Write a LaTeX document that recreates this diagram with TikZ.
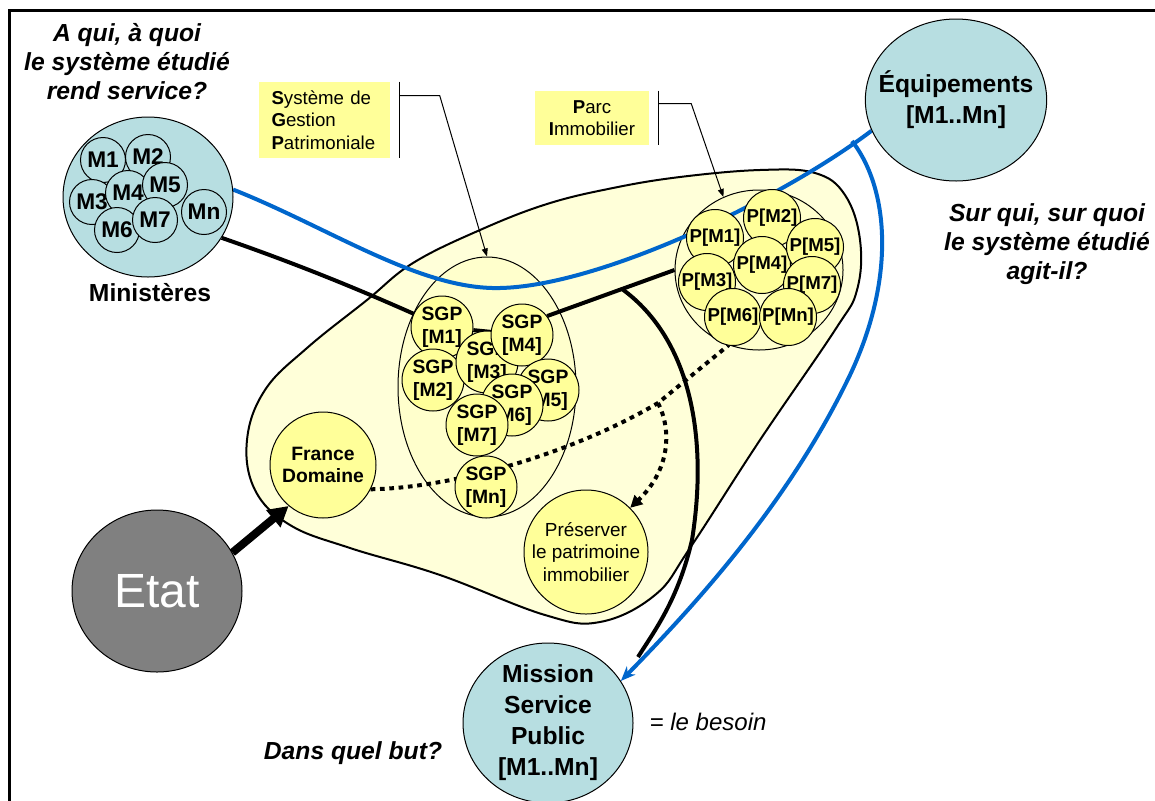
\documentclass[tikz,border=0pt]{standalone}
\usepackage{fontspec}
\setmainfont{Liberation Sans}
\usepackage{tikz}
\usetikzlibrary{shapes.geometric,arrows.meta,positioning,calc}
\definecolor{minBlue}{HTML}{B7DEE1}
\definecolor{sgpYellow}{HTML}{FFFF99}
\definecolor{blobYellow}{HTML}{FFFFD9}
\definecolor{ellYellow}{HTML}{FFFFCC}
\definecolor{linkBlue}{HTML}{0066CC}
\definecolor{etatGrey}{HTML}{808080}
\pgfdeclarelayer{blob}
\pgfdeclarelayer{links}
\pgfsetlayers{blob,links,main}
\tikzset{
  frameline/.style={line width=2.25pt},
  blobshape/.style={draw, line width=1.5pt, fill=blobYellow},
  groupell/.style={ellipse, draw, line width=0.75pt, fill=ellYellow, inner sep=0pt},
  bigblue/.style={ellipse, draw, line width=0.75pt, fill=minBlue, align=center,
    minimum width=127.5pt, minimum height=120pt, inner sep=-10pt,
    font=\fontsize{18.5}{23.25}\selectfont\bfseries},
  minsmall/.style={circle, draw, line width=0.75pt, fill=minBlue, minimum size=33.75pt,
    inner sep=0pt, font=\fontsize{17}{17}\selectfont\bfseries},
  sgpcirc/.style={circle, draw, line width=0.75pt, fill=sgpYellow, minimum size=46.5pt,
    inner sep=0pt, align=center, font=\fontsize{14.5}{17.25}\selectfont\bfseries},
  parccirc/.style={circle, draw, line width=0.75pt, fill=sgpYellow, minimum size=42.75pt,
    inner sep=0pt, font=\fontsize{14}{14}\selectfont\bfseries},
  calloutbox/.style={rectangle, fill=sgpYellow, inner sep=0pt,
    font=\fontsize{14}{16.9}\selectfont},
  question/.style={align=center, font=\fontsize{18.5}{21.75}\selectfont\bfseries\itshape},
  linkblack/.style={line width=3pt},
  linkblue/.style={line width=3pt, draw=linkBlue},
  linkdot/.style={line width=3pt, dash pattern=on 3.5pt off 3.5pt},
  pointer/.style={line width=0.75pt, -{Triangle[length=6pt,width=4.5pt]}}
}
\begin{document}
\begin{tikzpicture}[x=0.75pt, y=-0.75pt]
\useasboundingbox (0,0) rectangle (1155,800);
\draw[frameline] (1160,10) -- (9,10) -- (9,805);

\begin{pgfonlayer}{blob}
\draw[blobshape] plot[smooth cycle, tension=0.65] coordinates {
  (247,440) (265,390) (307,348) (367,300) (413,263) (480,230) (547,204) (613,188)
  (680,177) (760,170) (815,173) (845,195) (860,240) (857,290) (835,330) (760,440)
  (690,548) (655,595) (600,622) (545,615) (440,575) (350,548) (290,525) (255,490)};
\node[groupell, minimum width=133.5pt, minimum height=195pt] (sgpell) at (487,387) {};
\node[groupell, minimum width=126pt, minimum height=120pt] (pbig) at (759,270) {};
\end{pgfonlayer}

% questions
\node[question] (qleft) at (127,62) {A qui, à quoi\\le système étudié\\rend service?};
\node[question] (qright) at (1047,244) {Sur qui, sur quoi\\le système étudié\\agit-il?};
\node[question] (qbut) at (353,753) {Dans quel but?};
\node[font=\fontsize{18}{21}\selectfont\itshape, anchor=west] (besoin) at (645,722) {= le besoin};

% ministeres
\node[bigblue] (min) at (148,197) {};
\node[font=\fontsize{18.5}{21}\selectfont\bfseries] (minlbl) at (150,293) {Ministères};
\foreach \nm/\xx/\yy in {1/103/160, 2/148/157, 3/92/202, 4/128/193, 5/165/185, 6/117/230, 7/155/220, n/204/212}
  \node[minsmall] (m\nm) at (\xx,\yy) {M\nm};

\node[bigblue, minimum height=121.5pt] (equip) at (956,100) {Équipements\\{}[M1..Mn]};
\node[bigblue] (mission) at (548,723) {Mission\\Service\\Public\\{}[M1..Mn]};
\node[ellipse, draw, line width=0.75pt, fill=etatGrey, text=white, minimum width=127.5pt,
  minimum height=121.5pt, font=\fontsize{36}{36}\selectfont] (etat) at (157,591) {Etat};

% SGP
\foreach \nm/\xx/\yy in {1/442/327, 2/433/380, 3/487/362, 4/522/335, 5/548/390, 6/512/405, 7/477/425, n/486/487}
  \node[sgpcirc] (s\nm) at (\xx,\yy) {SGP\\{}[M\nm]};

% parc immobilier
\foreach \nm/\xx/\yy in {1/715/238, 2/772/218, 3/707/282, 4/762/265, 5/815/247, 7/812/285, 6/733/317, n/788/317}
  \node[parccirc] (p\nm) at (\xx,\yy) {P[M\nm]};

\node[sgpcirc, minimum size=79.5pt, font=\fontsize{14.5}{16.5}\selectfont\bfseries] (fd) at (323,465) {France\\Domaine};
\node[sgpcirc, minimum size=93pt, font=\fontsize{14.2}{16.9}\selectfont] (prs) at (586,552) {Préserver\\le patrimoine\\immobilier};

\node[calloutbox, text width=78.75pt, align=left, minimum height=57pt, inner xsep=9.75pt] (sgpbox) at (324,120)
  {\textbf{S}ystème de\\\textbf{G}estion\\\textbf{P}atrimoniale};
\node[calloutbox, minimum width=85.5pt, minimum height=40.5pt, align=center] (parcbox) at (592,118)
  {\textbf{P}arc\\\textbf{I}mmobilier};

\coordinate (djoin) at (658,403);
\coordinate (kfork) at (622,289);
\coordinate (kend) at (638,657);
\coordinate (bfork) at (852,141);

\begin{pgfonlayer}{links}
\draw[linkdot] (fd.-27) .. controls (450,488) and (570,455) .. (djoin) -- (pbig.-112);
\draw[linkdot, -{Triangle[length=9pt,width=9pt]}] (djoin) .. controls (672,430) and (670,470) .. (prs.45);
\draw[linkblack] (min.-29) .. controls (300,265) and (360,290) .. (s1.155);
\draw[linkblack] (s1) -- (s4);
\draw[linkblack] (s4.37) -- (pbig.west);
\draw[linkblack] (kfork) .. controls (692,340) and (708,440) .. (692,540)
  .. controls (678,600) and (655,630) .. (kend);
\draw[linkblue] (min.5) .. controls (330,228) and (420,290) .. (500,288)
  .. controls (600,286) and (780,200) .. (equip.200);
\draw[linkblue, -{Stealth[length=11pt,width=9pt]}] (bfork) .. controls (890,190) and (895,280) .. (850,375)
  .. controls (790,500) and (700,600) .. (mission.30);
\draw[line width=6pt, -{Triangle[length=15pt,width=16pt]}] (etat.27) -- (fd.230);
\draw[line width=0.75pt] ($(sgpbox.north east)+(10,0)$) -- ($(sgpbox.south east)+(10,0)$);
\draw[pointer] ($(sgpbox.north east)+(10,14)$) -- ++(40,0) -- (sgpell.north);
\draw[line width=0.75pt] ($(parcbox.north east)+(9,0)$) -- ($(parcbox.south east)+(9,0)$);
\draw[pointer] ($(parcbox.north east)+(9,13)$) -- ++(33,0) -- (pbig.116);
\end{pgfonlayer}
\end{tikzpicture}
\end{document}
